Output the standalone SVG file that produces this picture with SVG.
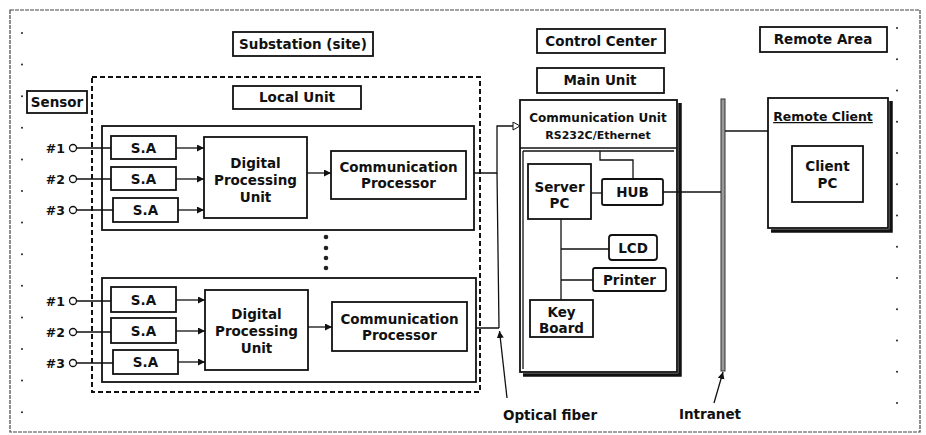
<svg xmlns="http://www.w3.org/2000/svg" width="926" height="435" viewBox="0 0 926 435">
<defs>
<style>
text{font-family:"DejaVu Sans","Verdana",sans-serif;font-weight:bold;fill:#111;text-anchor:middle}
.box{fill:#fff;stroke:#111;stroke-width:1.8}
.ln{fill:none;stroke:#111;stroke-width:1.3}
.t{font-size:13.5px}
.s{font-size:12.5px;text-anchor:end}
.dot{fill:#222}
</style>
<marker id="fa" markerUnits="userSpaceOnUse" markerWidth="8" markerHeight="8" refX="7" refY="3.5" orient="auto">
<path d="M0,0 L7,3.5 L0,7 z" fill="#111"/>
</marker>
<marker id="oa" markerUnits="userSpaceOnUse" markerWidth="10" markerHeight="10" refX="8" refY="4.5" orient="auto">
<path d="M1,0.5 L8,4.5 L1,8.5 z" fill="#fff" stroke="#111" stroke-width="1"/>
</marker>
</defs>
<rect width="926" height="435" fill="#fff"/>
<rect x="10" y="10" width="910" height="422" fill="none" stroke="#444" stroke-width="1.2" stroke-dasharray="4,1"/>
<g id="margin-dots">
<circle class="dot" cx="22" cy="33" r="1"/><circle class="dot" cx="22" cy="64.6" r="1"/><circle class="dot" cx="22" cy="96.2" r="1"/><circle class="dot" cx="22" cy="127.8" r="1"/><circle class="dot" cx="22" cy="159.4" r="1"/><circle class="dot" cx="22" cy="191" r="1"/><circle class="dot" cx="22" cy="222.6" r="1"/><circle class="dot" cx="22" cy="254.2" r="1"/><circle class="dot" cx="22" cy="285.8" r="1"/><circle class="dot" cx="22" cy="317.4" r="1"/><circle class="dot" cx="22" cy="349" r="1"/><circle class="dot" cx="22" cy="380.6" r="1"/><circle class="dot" cx="22" cy="412.2" r="1"/>
<circle class="dot" cx="897" cy="28" r="1"/><circle class="dot" cx="897" cy="59.3" r="1"/><circle class="dot" cx="897" cy="90.5" r="1"/><circle class="dot" cx="897" cy="121.8" r="1"/><circle class="dot" cx="897" cy="153" r="1"/><circle class="dot" cx="897" cy="184.3" r="1"/><circle class="dot" cx="897" cy="215.5" r="1"/><circle class="dot" cx="897" cy="246.8" r="1"/><circle class="dot" cx="897" cy="278" r="1"/><circle class="dot" cx="897" cy="309.3" r="1"/><circle class="dot" cx="897" cy="340.5" r="1"/><circle class="dot" cx="897" cy="371.8" r="1"/><circle class="dot" cx="897" cy="403" r="1"/>
</g>
<g id="labels">
<g id="lbl-substation"><rect class="box" x="233" y="32" width="140" height="24"/><text class="t" x="303" y="49">Substation (site)</text></g>
<g id="lbl-sensor"><rect class="box" x="27" y="91" width="60" height="22"/><text class="t" x="57" y="107">Sensor</text></g>
<g id="lbl-local"><rect class="box" x="233" y="86" width="128" height="23"/><text class="t" x="297" y="102">Local Unit</text></g>
<g id="lbl-control"><rect class="box" x="537" y="29" width="128" height="24"/><text class="t" x="601" y="46">Control Center</text></g>
<g id="lbl-main"><rect class="box" x="537" y="68" width="127" height="25"/><text class="t" x="600" y="85">Main Unit</text></g>
<g id="lbl-remote"><rect class="box" x="760" y="27" width="127" height="25"/><text class="t" x="823" y="44">Remote Area</text></g>
<text class="t" x="550" y="420">Optical fiber</text>
<text class="t" x="710" y="419">Intranet</text>
</g>
<g id="substation">
<rect x="92" y="77" width="388" height="315" fill="none" stroke="#111" stroke-width="2" stroke-dasharray="5,3"/>
</g>
<g id="local-unit-1">
<rect class="box" x="102" y="126" width="372" height="104"/>
<g id="sa-1-1"><rect class="box" x="111" y="136" width="65" height="23"/><text class="t" x="143.5" y="152.5">S.A</text></g>
<g id="sa-1-2"><rect class="box" x="111" y="167" width="65" height="23"/><text class="t" x="143.5" y="183.5">S.A</text></g>
<g id="sa-1-3"><rect class="box" x="113" y="198" width="65" height="24"/><text class="t" x="145.5" y="215">S.A</text></g>
<g id="dpu-1"><rect class="box" x="204" y="137" width="103" height="81"/><text class="t" x="255.5" y="168">Digital</text><text class="t" x="255.5" y="185">Processing</text><text class="t" x="255.5" y="202">Unit</text></g>
<g id="cp-1"><rect class="box" x="331" y="151" width="135" height="48"/><text class="t" x="398.5" y="172">Communication</text><text class="t" x="398.5" y="188">Processor</text></g>
</g>
<g id="local-unit-2">
<rect class="box" x="102" y="278" width="374" height="104"/>
<g id="sa-2-1"><rect class="box" x="111" y="287" width="65" height="25"/><text class="t" x="143.5" y="304.5">S.A</text></g>
<g id="sa-2-2"><rect class="box" x="111" y="318" width="65" height="25"/><text class="t" x="143.5" y="335.5">S.A</text></g>
<g id="sa-2-3"><rect class="box" x="113" y="350" width="65" height="24"/><text class="t" x="145.5" y="367">S.A</text></g>
<g id="dpu-2"><rect class="box" x="205" y="290" width="103" height="80"/><text class="t" x="256.5" y="319">Digital</text><text class="t" x="256.5" y="336">Processing</text><text class="t" x="256.5" y="353">Unit</text></g>
<g id="cp-2"><rect class="box" x="332" y="302" width="135" height="49"/><text class="t" x="399.5" y="324">Communication</text><text class="t" x="399.5" y="340">Processor</text></g>
</g>
<g id="ellipsis">
<circle class="dot" cx="326" cy="237" r="2.3"/><circle class="dot" cx="326" cy="248" r="2.3"/><circle class="dot" cx="326" cy="258" r="2.3"/><circle class="dot" cx="326" cy="268" r="2.3"/>
</g>
<g id="sensors">
<text class="s" x="65" y="152.5">#1</text><text class="s" x="65" y="183.5">#2</text><text class="s" x="65" y="214.5">#3</text>
<text class="s" x="65" y="305.5">#1</text><text class="s" x="65" y="336.5">#2</text><text class="s" x="65" y="367.5">#3</text>
</g>
<g id="main-unit">
<path d="M680,103 V375 H523" fill="none" stroke="#111" stroke-width="3.5"/>
<rect class="box" x="520" y="100" width="157" height="272"/>
<line class="ln" x1="520" y1="148" x2="677" y2="148"/>
<line class="ln" x1="523" y1="151" x2="674" y2="151"/>
<line class="ln" x1="523" y1="151" x2="523" y2="369"/>
<text x="598" y="122" style="font-size:12px">Communication Unit</text>
<text x="598" y="139" style="font-size:11px">RS232C/Ethernet</text>
<g id="server-pc"><rect class="box" x="528" y="164" width="63" height="55"/><text class="t" x="559.5" y="192">Server</text><text class="t" x="559.5" y="208">PC</text></g>
<g id="hub"><rect class="box" x="602" y="179" width="61" height="26" rx="2"/><text class="t" x="632.5" y="197">HUB</text></g>
<g id="lcd"><rect class="box" x="609" y="235" width="48" height="25" rx="3"/><text class="t" x="633" y="252.5">LCD</text></g>
<g id="printer"><rect class="box" x="593" y="268" width="73" height="23" rx="2"/><text class="t" x="629.5" y="284.5">Printer</text></g>
<g id="keyboard"><rect class="box" x="530" y="300" width="63" height="37"/><text class="t" x="561.5" y="317">Key</text><text class="t" x="561.5" y="333">Board</text></g>
</g>
<g id="intranet">
<rect x="721" y="99" width="4" height="272" fill="#999" stroke="#333" stroke-width="1"/>
</g>
<g id="remote-client">
<path d="M891,101 V231 H771" fill="none" stroke="#111" stroke-width="3.5"/>
<rect class="box" x="768" y="98" width="120" height="130"/>
<text x="823" y="121" style="font-size:12.5px;text-decoration:underline">Remote Client</text>
<g id="client-pc"><rect class="box" x="792" y="146" width="71" height="56"/><text class="t" x="827.5" y="171">Client</text><text class="t" x="827.5" y="188">PC</text></g>
</g>
<g id="connectors">
<g fill="#fff" stroke="#111" stroke-width="1.3">
<circle cx="73" cy="148" r="3.5"/><circle cx="73" cy="179" r="3.5"/><circle cx="73" cy="210" r="3.5"/>
<circle cx="73" cy="301" r="3.5"/><circle cx="73" cy="332" r="3.5"/><circle cx="73" cy="363" r="3.5"/>
</g>
<path class="ln" d="M76.5,148 H111 M76.5,179 H111 M76.5,210 H113 M76.5,301 H111 M76.5,332 H111 M76.5,363 H113"/>
<line class="ln" x1="176" y1="148" x2="204" y2="148" marker-end="url(#fa)"/>
<line class="ln" x1="176" y1="179" x2="204" y2="179" marker-end="url(#fa)"/>
<line class="ln" x1="178" y1="210" x2="204" y2="210" marker-end="url(#fa)"/>
<line class="ln" x1="176" y1="300" x2="205" y2="300" marker-end="url(#fa)"/>
<line class="ln" x1="176" y1="331" x2="205" y2="331" marker-end="url(#fa)"/>
<line class="ln" x1="178" y1="362" x2="205" y2="362" marker-end="url(#fa)"/>
<line class="ln" x1="307" y1="173" x2="331" y2="173" marker-end="url(#fa)"/>
<line class="ln" x1="308" y1="327" x2="332" y2="327" marker-end="url(#fa)"/>
<path class="ln" d="M474,173 H497 V126 H520" marker-end="url(#oa)"/>
<path class="ln" d="M476,328 H499 M497,173 L499,328"/>
<line class="ln" x1="507" y1="398" x2="499.5" y2="331" marker-end="url(#fa)"/>
<line class="ln" x1="591" y1="193" x2="602" y2="193"/>
<path class="ln" d="M633,179 V160 H600 V151"/>
<path class="ln" d="M561,219 V300 M561,249 H609 M561,280 H593"/>
<line class="ln" x1="663" y1="192" x2="721" y2="192"/>
<line class="ln" x1="725" y1="131" x2="768" y2="131"/>
<line class="ln" x1="714" y1="403" x2="723" y2="372" marker-end="url(#fa)"/>
</g>
</svg>
